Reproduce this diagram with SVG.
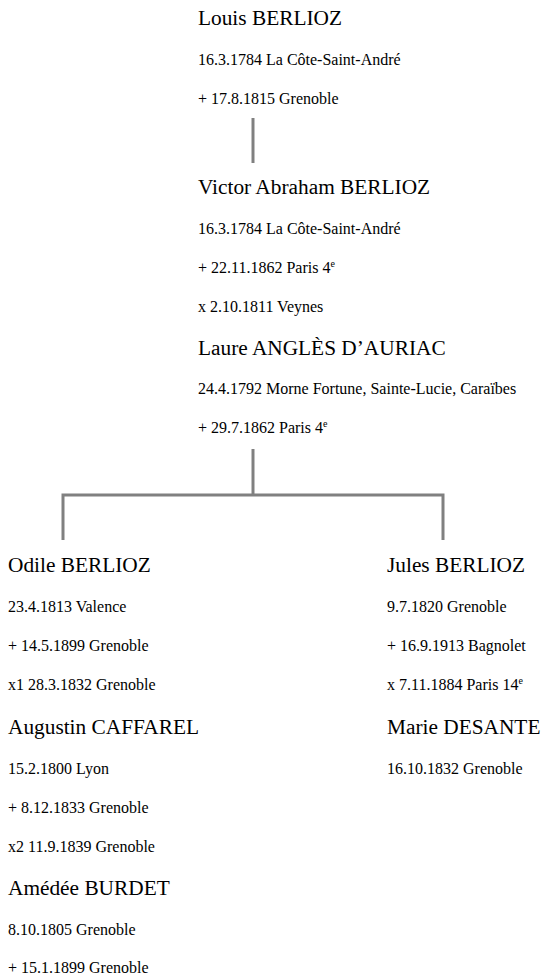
<svg xmlns="http://www.w3.org/2000/svg" width="542" height="975" viewBox="0 0 542 975">
<style>
text{font-family:"Liberation Serif","Times New Roman",serif;fill:#000}
.n{font-size:21.33px}
.d{font-size:16px}
.sup{font-size:10px}
.c{stroke:#808080;stroke-width:3;fill:none}
</style>
<rect width="542" height="975" fill="#fff"/>
<g id="connectors">
<line class="c" x1="253" y1="118" x2="253" y2="163"/>
<line class="c" x1="253" y1="449" x2="253" y2="495"/>
<polyline class="c" points="63,540 63,495 443,495 443,540"/>
</g>
<g id="louis">
<text class="n" x="198" y="25">Louis BERLIOZ</text>
<text class="d" x="198" y="65">16.3.1784 La Côte-Saint-André</text>
<text class="d" x="198" y="104">+ 17.8.1815 Grenoble</text>
</g>
<g id="victor">
<text class="n" x="198" y="194">Victor Abraham BERLIOZ</text>
<text class="d" x="198" y="234">16.3.1784 La Côte-Saint-André</text>
<text class="d" x="198" y="273">+ 22.11.1862 Paris 4<tspan class="sup" dy="-6">e</tspan></text>
<text class="d" x="198" y="312">x 2.10.1811 Veynes</text>
</g>
<g id="laure">
<text class="n" x="198" y="355">Laure ANGLÈS D’AURIAC</text>
<text class="d" x="198" y="394">24.4.1792 Morne Fortune, Sainte-Lucie, Caraïbes</text>
<text class="d" x="198" y="433">+ 29.7.1862 Paris 4<tspan class="sup" dy="-6">e</tspan></text>
</g>
<g id="odile">
<text class="n" x="8" y="572">Odile BERLIOZ</text>
<text class="d" x="8" y="612">23.4.1813 Valence</text>
<text class="d" x="8" y="651">+ 14.5.1899 Grenoble</text>
<text class="d" x="8" y="690">x1 28.3.1832 Grenoble</text>
</g>
<g id="augustin">
<text class="n" x="8" y="734">Augustin CAFFAREL</text>
<text class="d" x="8" y="774">15.2.1800 Lyon</text>
<text class="d" x="8" y="813">+ 8.12.1833 Grenoble</text>
<text class="d" x="8" y="852">x2 11.9.1839 Grenoble</text>
</g>
<g id="amedee">
<text class="n" x="8" y="895">Amédée BURDET</text>
<text class="d" x="8" y="935">8.10.1805 Grenoble</text>
<text class="d" x="8" y="973">+ 15.1.1899 Grenoble</text>
</g>
<g id="jules">
<text class="n" x="387" y="572">Jules BERLIOZ</text>
<text class="d" x="387" y="612">9.7.1820 Grenoble</text>
<text class="d" x="387" y="651">+ 16.9.1913 Bagnolet</text>
<text class="d" x="387" y="690">x 7.11.1884 Paris 14<tspan class="sup" dy="-6">e</tspan></text>
</g>
<g id="marie">
<text class="n" x="387" y="734">Marie DESANTE</text>
<text class="d" x="387" y="774">16.10.1832 Grenoble</text>
</g>
</svg>
